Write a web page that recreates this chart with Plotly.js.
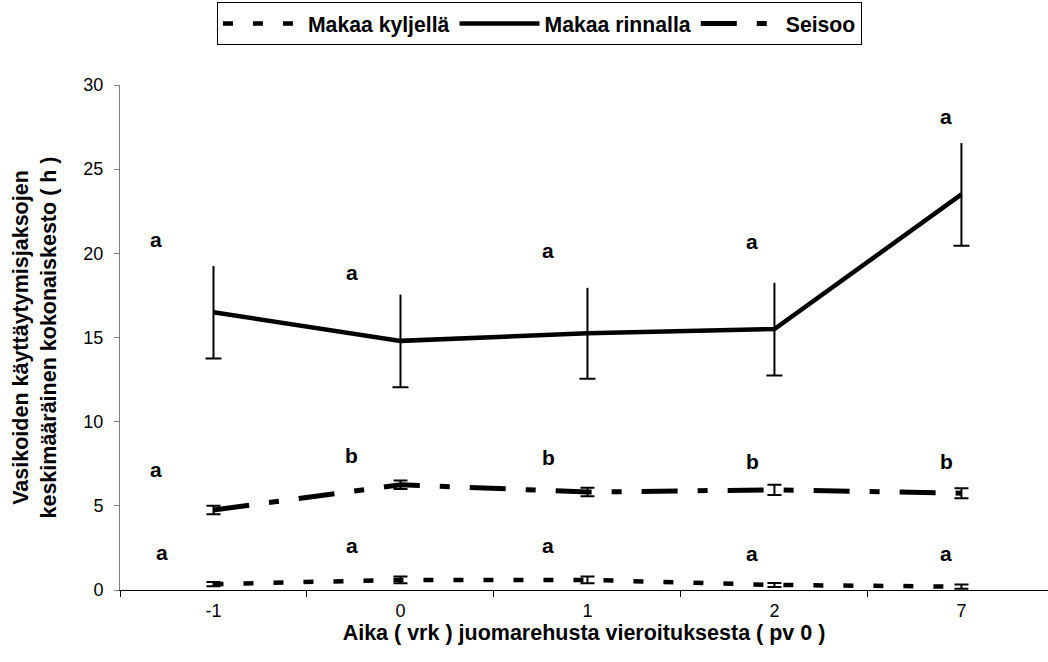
<!DOCTYPE html>
<html>
<head>
<meta charset="utf-8">
<script src="https://cdn.plot.ly/plotly-3.0.1.min.js"></script>
<style>
  html, body { margin: 0; padding: 0; background: #fff; }
  #chart { width: 1048px; height: 662px; }
</style>
</head>
<body>
<div id="chart"></div>
<script>
// Sampling days relative to weaning from liquid feed (day 0)
const days = ['-1', '0', '1', '2', '7'];

// Mean total duration (h) of each behaviour and its standard error
const lyingSide = [0.35, 0.6, 0.6, 0.3, 0.2];
const lyingSideSE = [0.12, 0.2, 0.2, 0.12, 0.12];

const lyingSternal = [16.5, 14.8, 15.25, 15.5, 23.5];
const lyingSternalSE = [2.75, 2.75, 2.7, 2.75, 3.05];

const standing = [4.75, 6.25, 5.82, 5.95, 5.75];
const standingSE = [0.25, 0.25, 0.25, 0.3, 0.3];

// Significance letters for each behaviour and day
const lyingSideLetters = ['a', 'a', 'a', 'a', 'a'];
const lyingSternalLetters = ['a', 'a', 'a', 'a', 'a'];
const standingLetters = ['a', 'b', 'b', 'b', 'b'];

const FONT = 'Liberation Sans, Arial, sans-serif';

// Letter placement (category-index x, value-axis y)
const letterX = [-0.31, 0.74, 1.79, 2.88, 3.92];
const sideLetterX = [-0.275, 0.74, 1.79, 2.88, 3.92];
const sternalLetterY = [20.8, 18.85, 20.15, 20.7, 28.1];
const standingLetterY = [7.15, 8.0, 7.85, 7.65, 7.65];
const sideLetterY = [2.2, 2.65, 2.65, 2.15, 2.15];

const zeros = days.map(() => 0);

const traces = [
  {
    name: 'Makaa kyljellä',
    x: days, y: lyingSide, type: 'scatter', mode: 'lines',
    line: { color: '#000', width: 4.5, dash: '10px,20px' },
    error_y: { type: 'data', array: lyingSideSE, visible: true, color: '#000', thickness: 2, width: 7 },
    hoverinfo: 'skip'
  },
  {
    name: 'Makaa rinnalla',
    x: days, y: lyingSternal, type: 'scatter', mode: 'lines',
    line: { color: '#000', width: 4.5 },
    hoverinfo: 'skip'
  },
  {
    name: 'Seisoo',
    x: days, y: standing, type: 'scatter', mode: 'lines',
    line: { color: '#000', width: 5, dash: '36px,20px,10px,20px' },
    error_y: { type: 'data', array: standingSE, visible: true, color: '#000', thickness: 2, width: 7 },
    hoverinfo: 'skip'
  },
  // Lying sternal: full whisker without caps
  {
    x: days, y: lyingSternal, type: 'scatter', mode: 'markers',
    marker: { size: 1, opacity: 0 }, showlegend: false, hoverinfo: 'skip',
    error_y: { type: 'data', array: lyingSternalSE, visible: true, color: '#000', thickness: 2, width: 0 }
  },
  // Lying sternal: cap on the lower end of each whisker
  {
    x: days, y: lyingSternal.map((v, i) => v - lyingSternalSE[i]), type: 'scatter', mode: 'markers',
    marker: { size: 1, opacity: 0 }, showlegend: false, hoverinfo: 'skip',
    error_y: { type: 'data', array: zeros, visible: true, color: '#000', thickness: 2, width: 8 }
  }
];

function letters(xs, ys, texts) {
  return texts.map((t, i) => ({
    x: xs[i], y: ys[i], xref: 'x', yref: 'y', text: t, showarrow: false,
    xanchor: 'center', yanchor: 'middle',
    font: { family: FONT, size: 21, color: '#000', weight: 'bold' }
  }));
}

const annotations = []
  .concat(letters(letterX, sternalLetterY, lyingSternalLetters))
  .concat(letters(letterX, standingLetterY, standingLetters))
  .concat(letters(sideLetterX, sideLetterY, lyingSideLetters));

const layout = {
  width: 1048, height: 662,
  margin: { l: 120, r: 0, t: 85, b: 72, pad: 0 },
  paper_bgcolor: '#fff', plot_bgcolor: '#fff',
  font: { family: FONT, color: '#000', size: 18 },
  showlegend: true,
  legend: {
    orientation: 'h', x: 0.452, xanchor: 'center', y: 1.164, yanchor: 'top',
    bgcolor: '#fff', bordercolor: '#000', borderwidth: 1,
    font: { family: FONT, size: 21.2, color: '#000', weight: 'bold' },
    itemwidth: 80, tracegroupgap: 0
  },
  xaxis: {
    type: 'category', range: [-0.5, 4.463],
    showline: true, linecolor: '#000', linewidth: 1,
    ticks: 'outside', tickson: 'boundaries', ticklen: 6, tickcolor: '#000', tickwidth: 1,
    ticklabelstandoff: 4,
    showgrid: false, zeroline: false,
    tickfont: { family: FONT, size: 18, color: '#000' },
    title: { text: 'Aika ( vrk ) juomarehusta vieroituksesta ( pv 0 )', font: { family: FONT, size: 21.5, color: '#000', weight: 'bold' }, standoff: 1 }
  },
  yaxis: {
    range: [0, 30], dtick: 5, tick0: 0,
    showline: true, linecolor: '#808080', linewidth: 1,
    ticks: 'outside', ticklen: 5, tickcolor: '#808080', tickwidth: 1,
    ticklabelstandoff: 7,
    showgrid: false, zeroline: false,
    tickfont: { family: FONT, size: 18, color: '#000' },
    title: { text: 'Vasikoiden käyttäytymisjaksojen<br>keskimääräinen kokonaiskesto ( h )', font: { family: FONT, size: 21.5, color: '#000', weight: 'bold' }, standoff: 20 }
  },
  annotations: annotations
};

Plotly.newPlot('chart', traces, layout, { displayModeBar: false, staticPlot: true });
</script>
</body>
</html>
